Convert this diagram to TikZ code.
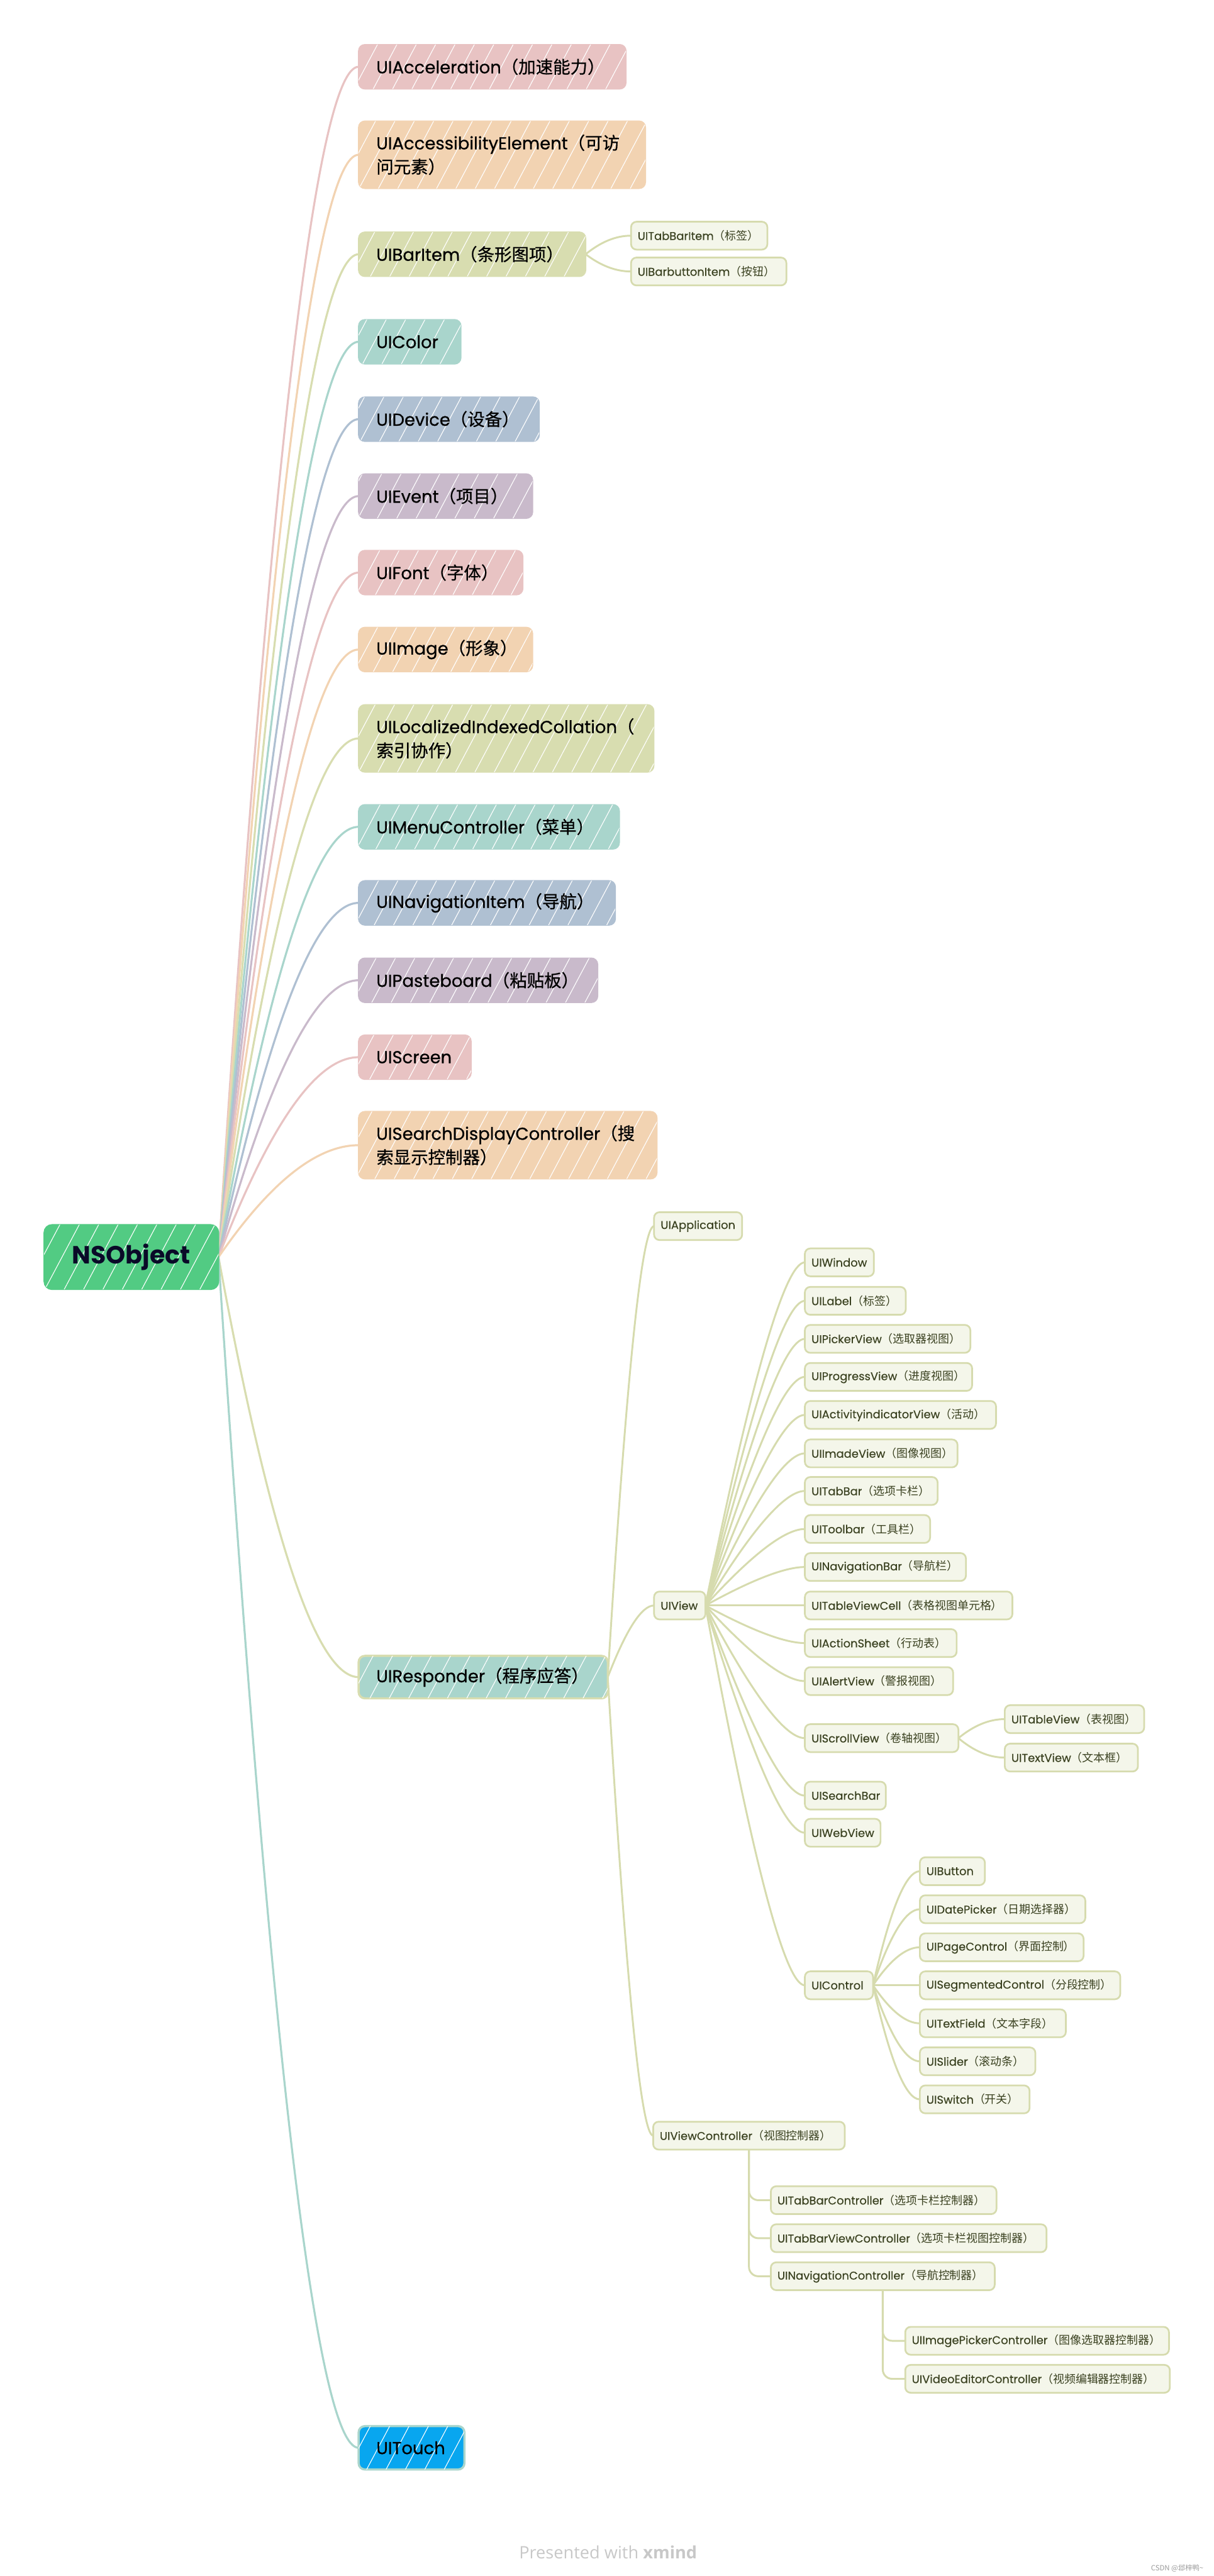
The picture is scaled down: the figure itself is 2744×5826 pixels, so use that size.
\documentclass[tikz,border=0pt]{standalone}
\usepackage{fontspec}
\setmainfont{Poppins}
\newfontfamily\popmed{Poppins}[FakeBold=0.7]
\newfontfamily\popsub{Poppins}[FakeBold=0.35]
\newfontfamily\cjkfont{Noto Sans CJK SC}
\newfontfamily\cjkmed{Noto Sans CJK SC}[FakeBold=0.7]
\newfontfamily\creditfont{Open Sans}
\usetikzlibrary{calc,patterns.meta}

\definecolor{cPink}{HTML}{E8C3C3}
\definecolor{cPeach}{HTML}{F2D3B2}
\definecolor{cOlive}{HTML}{D8DDB0}
\definecolor{cTeal}{HTML}{A9D5CC}
\definecolor{cSteel}{HTML}{AFC0D2}
\definecolor{cMauve}{HTML}{C9BACB}
\definecolor{cRoot}{HTML}{52CB83}
\definecolor{cSky}{HTML}{08A6EF}
\definecolor{cCream}{HTML}{F4F6EA}
\definecolor{cSubText}{HTML}{3A4120}
\definecolor{cLine}{HTML}{D6DBAE}
\definecolor{cRootText}{HTML}{0A0A28}
\definecolor{cCredit}{HTML}{C8C8C8}
\definecolor{cCsdn}{HTML}{9A9A9A}

% Chinese runs use whichever CJK face the current box style selected
\let\cjkcur\cjkfont
\newcommand\zh[1]{{\cjkcur #1}}

\pgfdeclarelayer{lines}
\pgfsetlayers{lines,main}

% first-level topic: name, options, x-left, x-right, y-centre, height, label
\newcommand\topicnode[7]{%
  \pgfmathsetmacro\nodew{(#4-#3)/100}%
  \pgfmathsetmacro\nodeh{#6/100}%
  \pgfmathsetmacro\textw{(#4-#3)/100-0.8}%
  \node[#2, minimum width=\nodew cm, minimum height=\nodeh cm, text width=\textw cm] (#1) at (#3,#5) {#7};}

% sub-topic: name, x-left, x-right, y-centre, label
\newcommand\subnode[5]{%
  \pgfmathsetmacro\nodew{(#3-#2)/100}%
  \pgfmathsetmacro\textw{(#3-#2)/100-0.3}%
  \node[sub, minimum width=\nodew cm, text width=\textw cm] (#1) at (#2,#4) {#5};}

% curved branch from one anchor to another: style, bend, from, to
\newcommand\mmlink[4]{%
  \draw[#1] let \p1=(#3), \p2=(#4) in (\p1)
    .. controls ({\x1+0.6667*#2*(\x2-\x1)},{\y1+0.6667*(\y2-\y1)})
           and ({\x2-0.6667*(1-#2)*(\x2-\x1)},\y2) .. (\p2);}

\begin{document}
\begin{tikzpicture}[x=0.01cm, y=-0.01cm,
  hatch/.style={postaction={pattern={Lines[angle=62,distance=11pt,line width=0.45pt]},
                            pattern color=white, fill opacity=0.45}},
  topic/.style={rounded corners=4pt, fill=#1, draw=#1, line width=0.8pt,
                inner xsep=0.4cm, inner ysep=0pt, outer sep=0pt, anchor=west,
                align=left, text=black, hatch,
                font=\popmed\let\cjkcur\cjkmed\fontsize{11.1pt}{15.4pt}\selectfont},
  sub/.style={rounded corners=3.5pt, fill=cCream, draw=cLine, line width=1.1pt,
              inner xsep=0.15cm, inner ysep=0pt, outer sep=0pt, anchor=west,
              minimum height=0.63cm, align=left, text=cSubText,
              font=\popsub\let\cjkcur\cjkfont\fontsize{7.26pt}{9pt}\selectfont},
  rootbox/.style={rounded corners=5pt, fill=cRoot, draw=cRoot, line width=0.8pt,
                  outer sep=0pt, minimum width=3.94cm, minimum height=1.46cm,
                  text=cRootText, hatch,
                  font=\fontsize{16pt}{19pt}\selectfont\bfseries},
  rootlink/.style={line width=1.3pt, line cap=round},
  sublink/.style={line width=1.2pt, draw=cLine, line cap=round},
]
\useasboundingbox (0,0) rectangle (2744,5826);

% ---------- root ----------
\node[rootbox] (root) at (297,2843) {NSObject};

% ---------- first-level topics ----------
\topicnode{accel}{topic=cPink}{811}{1415}{151}{100}{UIAcceleration\zh{（加速能力）}}
\topicnode{access}{topic=cPeach}{811}{1459}{350}{152}{UIAccessibilityElement\zh{（可访}\\\zh{问元素）}}
\topicnode{baritem}{topic=cOlive}{811}{1324}{575}{100}{UIBarItem\zh{（条形图项）}}
\topicnode{color}{topic=cTeal}{811}{1042}{773}{100}{UIColor}
\topicnode{device}{topic=cSteel}{811}{1219}{948}{100}{UIDevice\zh{（设备）}}
\topicnode{event}{topic=cMauve}{811}{1204}{1122}{100}{UIEvent\zh{（项目）}}
\topicnode{font}{topic=cPink}{811}{1182}{1295}{100}{UIFont\zh{（字体）}}
\topicnode{image}{topic=cPeach}{811}{1204}{1469}{100}{UIImage\zh{（形象）}}
\topicnode{collation}{topic=cOlive}{811}{1478}{1670}{152}{UILocalizedIndexedCollation\zh{（}\\\zh{索引协作）}}
\topicnode{menu}{topic=cTeal}{811}{1400}{1870}{100}{UIMenuController\zh{（菜单）}}
\topicnode{navitem}{topic=cSteel}{811}{1391}{2042}{100}{UINavigationItem\zh{（导航）}}
\topicnode{paste}{topic=cMauve}{811}{1351}{2217}{100}{UIPasteboard\zh{（粘贴板）}}
\topicnode{screen}{topic=cPink}{811}{1065}{2391}{100}{UIScreen}
\topicnode{searchdc}{topic=cPeach}{811}{1485}{2590}{152}{UISearchDisplayController\zh{（搜}\\\zh{索显示控制器）}}
\topicnode{responder}{topic=cTeal, draw=cOlive, line width=1.4pt}{811}{1374}{3793}{96}{UIResponder\zh{（程序应答）}}
\topicnode{touch}{topic=cSky, draw=cTeal, line width=1.4pt}{811}{1050}{5536}{98}{UITouch}

% ---------- UIBarItem children ----------
\subnode{tabbaritem}{1427}{1735}{533}{UITabBarItem\zh{（标签）}}
\subnode{barbtnitem}{1427}{1778}{614}{UIBarbuttonItem\zh{（按钮）}}

% ---------- UIResponder children ----------
\subnode{app}{1479}{1678}{2773}{UIApplication}
\subnode{view}{1479}{1595}{3631}{UIView}
\subnode{vc}{1477}{1910}{4830}{UIViewController\zh{（视图控制器）}}

% ---------- UIView children ----------
\subnode{window}{1820}{1976}{2855}{UIWindow}
\subnode{label}{1820}{2048}{2942}{UILabel\zh{（标签）}}
\subnode{picker}{1820}{2194}{3028}{UIPickerView\zh{（选取器视图）}}
\subnode{progress}{1820}{2198}{3114}{UIProgressView\zh{（进度视图）}}
\subnode{activity}{1820}{2252}{3200}{UIActivityindicatorView\zh{（活动）}}
\subnode{imade}{1820}{2165}{3287}{UIImadeView\zh{（图像视图）}}
\subnode{tabbar}{1820}{2120}{3372}{UITabBar\zh{（选项卡栏）}}
\subnode{toolbar}{1820}{2103}{3458}{UIToolbar\zh{（工具栏）}}
\subnode{navbar}{1820}{2184}{3544}{UINavigationBar\zh{（导航栏）}}
\subnode{cell}{1820}{2289}{3631}{UITableViewCell\zh{（表格视图单元格）}}
\subnode{actsheet}{1820}{2163}{3716}{UIActionSheet\zh{（行动表）}}
\subnode{alert}{1820}{2155}{3802}{UIAlertView\zh{（警报视图）}}
\subnode{scroll}{1820}{2167}{3931}{UIScrollView\zh{（卷轴视图）}}
\subnode{searchbar}{1820}{2003}{4061}{UISearchBar}
\subnode{webview}{1820}{1991}{4145}{UIWebView}
\subnode{control}{1820}{1974}{4490}{UIControl}

% ---------- UIScrollView children ----------
\subnode{tableview}{2272}{2587}{3888}{UITableView\zh{（表视图）}}
\subnode{textview}{2272}{2573}{3975}{UITextView\zh{（文本框）}}

% ---------- UIControl children ----------
\subnode{button}{2080}{2227}{4232}{UIButton}
\subnode{datepicker}{2080}{2454}{4318}{UIDatePicker\zh{（日期选择器）}}
\subnode{pagectl}{2080}{2450}{4404}{UIPageControl\zh{（界面控制）}}
\subnode{segctl}{2080}{2533}{4490}{UISegmentedControl\zh{（分段控制）}}
\subnode{textfield}{2080}{2410}{4576}{UITextField\zh{（文本字段）}}
\subnode{slider}{2080}{2341}{4662}{UISlider\zh{（滚动条）}}
\subnode{switch}{2080}{2328}{4748}{UISwitch\zh{（开关）}}

% ---------- UIViewController children ----------
\subnode{tbc}{1743}{2253}{4976}{UITabBarController\zh{（选项卡栏控制器）}}
\subnode{tbvc}{1743}{2366}{5062}{UITabBarViewController\zh{（选项卡栏视图控制器）}}
\subnode{navc}{1743}{2249}{5148}{UINavigationController\zh{（导航控制器）}}

% ---------- UINavigationController children ----------
\subnode{imgpick}{2047}{2643}{5294}{UIImagePickerController\zh{（图像选取器控制器）}}
\subnode{videoed}{2047}{2645}{5380}{UIVideoEditorController\zh{（视频编辑器控制器）}}

% ---------- footer texts ----------
\node[text=cCredit, font=\creditfont\fontsize{11pt}{13pt}\selectfont] (credit) at (1375,5772) {Presented with \textbf{xmind}};
\node[text=cCsdn, font=\cjkfont\fontsize{4.6pt}{6pt}\selectfont] (csdn) at (2662,5808) {CSDN @邶梓鸭\textasciitilde};

% ---------- connectors ----------
\begin{pgfonlayer}{lines}
  \mmlink{rootlink, draw=cPink}{0.55}{root.east}{accel.west}
  \mmlink{rootlink, draw=cPeach}{0.55}{root.east}{access.west}
  \mmlink{rootlink, draw=cOlive}{0.55}{root.east}{baritem.west}
  \mmlink{rootlink, draw=cTeal}{0.55}{root.east}{color.west}
  \mmlink{rootlink, draw=cSteel}{0.55}{root.east}{device.west}
  \mmlink{rootlink, draw=cMauve}{0.55}{root.east}{event.west}
  \mmlink{rootlink, draw=cPink}{0.55}{root.east}{font.west}
  \mmlink{rootlink, draw=cPeach}{0.55}{root.east}{image.west}
  \mmlink{rootlink, draw=cOlive}{0.55}{root.east}{collation.west}
  \mmlink{rootlink, draw=cTeal}{0.55}{root.east}{menu.west}
  \mmlink{rootlink, draw=cSteel}{0.55}{root.east}{navitem.west}
  \mmlink{rootlink, draw=cMauve}{0.55}{root.east}{paste.west}
  \mmlink{rootlink, draw=cPink}{0.55}{root.east}{screen.west}
  \mmlink{rootlink, draw=cPeach}{0.55}{root.east}{searchdc.west}
  \mmlink{rootlink, draw=cOlive}{0.55}{root.east}{responder.west}
  \mmlink{rootlink, draw=cTeal}{0.55}{root.east}{touch.west}

  \mmlink{sublink}{0.5}{baritem.east}{tabbaritem.west}
  \mmlink{sublink}{0.5}{baritem.east}{barbtnitem.west}

  \mmlink{sublink}{0.6}{responder.east}{app.west}
  \mmlink{sublink}{0.6}{responder.east}{view.west}
  \mmlink{sublink}{0.6}{responder.east}{vc.west}

  \foreach \kid in {window,label,picker,progress,activity,imade,tabbar,toolbar,
                    navbar,cell,actsheet,alert,scroll,searchbar,webview,control}
    {\mmlink{sublink}{0.7}{view.east}{\kid.west}}

  \mmlink{sublink}{0.5}{scroll.east}{tableview.west}
  \mmlink{sublink}{0.5}{scroll.east}{textview.west}

  \foreach \kid in {button,datepicker,pagectl,segctl,textfield,slider,switch}
    {\mmlink{sublink}{0.55}{control.east}{\kid.west}}

  \foreach \kid in {tbc,tbvc,navc}
    {\draw[sublink, rounded corners=6pt] (vc.south) |- (\kid.west);}
  \foreach \kid in {imgpick,videoed}
    {\draw[sublink, rounded corners=6pt] (navc.south) |- (\kid.west);}
\end{pgfonlayer}
\end{tikzpicture}
\end{document}
